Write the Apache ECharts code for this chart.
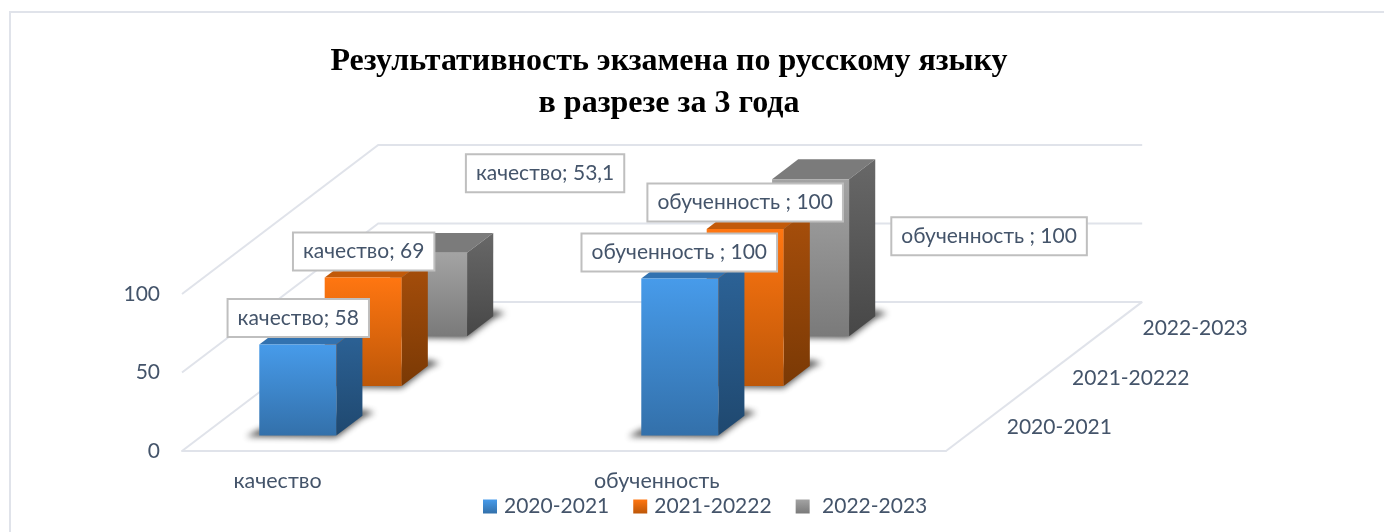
<!DOCTYPE html>
<html>
<head>
<meta charset="utf-8">
<title>Результативность экзамена</title>
<style>
    html, body { margin: 0; padding: 0; background: #fff; }
    #chart { width: 1384px; height: 532px; }
</style>
<script src="https://cdn.jsdelivr.net/npm/echarts@6/dist/echarts.min.js"></script>
</head>
<body>
<div id="chart"></div>
<script>
    // blank categories are in the source sheet, that is why the bars sit at 1/8 and 5/8 of the floor
    const categories = ['качество', '', 'обученность ', ''];
    const rowNames = ['2020-2021', '2021-20222', '2022-2023'];
    const values2021 = [58, null, 100, null];
    const values2122 = [69, null, 100, null];
    const values2223 = [53.1, null, 100, null];
    const yTicks = [0, 50, 100];

    const titleLines = ['Результативность экзамена по русскому языку', 'в разрезе за 3 года'];

    // oblique projection: one row of depth on screen
    const rowDx = 65.4;
    const rowDy = -49.7;
    const barStart = 0.31;
    const barDepth = 0.4;
    const barShare = 0.403;

    const textColor = '#44546a';
    const lineColor = '#e0e3ea';
    const textFont = 'Lato';

    const palettes = [
        { front: ['#479bea', '#3370aa'], side: ['#2d6499', '#1f486f'], top: '#3272b0' },
        { front: ['#ff7611', '#bd5708'], side: ['#a84f0b', '#7a3905'], top: '#c25a0a' },
        { front: ['#a3a3a3', '#7a7a7a'], side: ['#686868', '#474747'], top: '#7b7b7b' }
    ];

    // where the data labels were dragged to, relative to the top centre of the bar: [row][category]
    const labelShift = [
        { 0: [0.5, -26.5], 2: [-0.5, -26] },
        { 0: [0.5, -26], 2: [0, -26.5] },
        { 0: [116.5, -79.5], 2: [178.5, 57] }
    ];
    const rowLabelShift = [28, 28, 33];

    function vGrad(c) {
        return new echarts.graphic.LinearGradient(0, 0, 0, 1, [
            { offset: 0, color: c[0] },
            { offset: 1, color: c[1] }
        ]);
    }

    function barGeometry(api, row) {
        const cat = api.value(0);
        const val = api.value(1);
        if (isNaN(val)) return null;
        const width = api.size([1, 0])[0] * barShare;
        const base = api.coord([cat, 0]);
        const top = api.coord([cat, val]);
        const x = base[0] - width / 2 + (row + barStart) * rowDx;
        return {
            x: x,
            r: x + width,
            bottom: base[1] + (row + barStart) * rowDy,
            top: top[1] + (row + barStart) * rowDy,
            sx: barDepth * rowDx,
            sy: barDepth * rowDy
        };
    }

    function renderBar(row) {
        const p = palettes[row];
        const away = 3000; // the floor shadow shape is kept off the page, only its blur lands on the floor
        return function (params, api) {
            const g = barGeometry(api, row);
            if (!g) return null;
            return {
                type: 'group',
                children: [
                    {
                        type: 'polygon',
                        shape: { points: [
                            [g.x - 13 - away, g.bottom + 1], [g.r - away, g.bottom + 2], [g.r + g.sx - away, g.bottom + g.sy + 2],
                            [g.r + g.sx + 12 - away, g.bottom + g.sy - 3], [g.r + g.sx - away, g.bottom + g.sy - 6], [g.x - away, g.bottom - 6]
                        ] },
                        style: { fill: '#000', shadowBlur: 6, shadowColor: 'rgba(40,40,40,0.8)', shadowOffsetX: away }
                    },
                    {
                        type: 'polygon',
                        shape: { points: [[g.x, g.top], [g.x + g.sx, g.top + g.sy], [g.r + g.sx, g.top + g.sy], [g.r, g.top]] },
                        style: { fill: p.top }
                    },
                    {
                        type: 'polygon',
                        shape: { points: [[g.r, g.top], [g.r + g.sx, g.top + g.sy], [g.r + g.sx, g.bottom + g.sy], [g.r, g.bottom]] },
                        style: { fill: vGrad(p.side) }
                    },
                    {
                        type: 'rect',
                        shape: { x: g.x, y: g.top, width: g.r - g.x, height: g.bottom - g.top },
                        style: { fill: vGrad(p.front) }
                    }
                ]
            };
        };
    }

    function renderLabel(row) {
        return function (params, api) {
            const g = barGeometry(api, row);
            if (!g) return null;
            const cat = api.value(0);
            const shift = labelShift[row][cat];
            return {
                type: 'text',
                x: (g.x + g.r) / 2 + shift[0],
                y: g.top + shift[1],
                style: {
                    text: categories[cat] + '; ' + String(api.value(1)).replace('.', ','),
                    fontFamily: textFont,
                    fontSize: 21,
                    fill: textColor,
                    align: 'center',
                    verticalAlign: 'middle',
                    backgroundColor: '#fff',
                    borderColor: '#bfbfbf',
                    borderWidth: 2,
                    padding: [8, 9, 7, 9]
                }
            };
        };
    }

    function renderWall(params, api) {
        const cs = params.coordSys;
        const y = api.coord([0, api.value(1)])[1];
        const depthX = rowDx * rowNames.length;
        const depthY = rowDy * rowNames.length;
        const children = [{
            type: 'polyline',
            shape: { points: [[cs.x, y], [cs.x + depthX, y + depthY], [cs.x + cs.width + depthX, y + depthY]] },
            style: { stroke: lineColor, lineWidth: 2, fill: null }
        }];
        if (api.value(1) === 0) {
            children.push({
                type: 'line',
                shape: { x1: cs.x + cs.width, y1: y, x2: cs.x + cs.width + depthX, y2: y + depthY },
                style: { stroke: lineColor, lineWidth: 2 }
            });
        }
        return { type: 'group', children: children };
    }

    function renderRowName(params, api) {
        const cs = params.coordSys;
        const i = params.dataIndex;
        const base = api.coord([0, 0])[1];
        return {
            type: 'text',
            x: cs.x + cs.width + (i + 0.5) * rowDx + rowLabelShift[i],
            y: base + (i + 0.5) * rowDy + 1.5,
            style: {
                text: rowNames[i],
                fontFamily: textFont,
                fontSize: 21,
                fill: textColor,
                align: 'left',
                verticalAlign: 'middle'
            }
        };
    }

    const rowValues = [values2021, values2122, values2223];

    const barSeries = rowValues.map(function (vals, row) {
        return {
            name: rowNames[row],
            type: 'custom',
            z: 5 - row,
            renderItem: renderBar(row),
            encode: { x: 0, y: 1 },
            itemStyle: { color: vGrad(palettes[row].front) },
            data: vals.map(function (v, i) { return [i, v]; })
        };
    });

    const labelSeries = rowValues.map(function (vals, row) {
        return {
            name: 'labels' + row,
            type: 'custom',
            z: 10,
            renderItem: renderLabel(row),
            encode: { x: 0, y: 1 },
            data: vals.map(function (v, i) { return [i, v]; })
        };
    });

    const wallSeries = {
        name: 'walls',
        type: 'custom',
        z: 1,
        renderItem: renderWall,
        encode: { x: 0, y: 1 },
        data: yTicks.map(function (v) { return [0, v]; })
    };

    const rowNameSeries = {
        name: 'rows',
        type: 'custom',
        z: 1,
        renderItem: renderRowName,
        encode: { x: 0, y: 1 },
        data: rowNames.map(function () { return [0, 0]; })
    };

    const myChart = echarts.init(document.getElementById('chart'), null, { renderer: 'canvas' });
    myChart.setOption({
        animation: false,
        backgroundColor: '#fff',
        title: {
            text: titleLines.join('\n'),
            left: 664,
            top: 36,
            textAlign: 'center',
            textStyle: {
                fontFamily: 'Liberation Serif',
                fontWeight: 'bold',
                fontSize: 32,
                lineHeight: 42,
                color: '#000'
            }
        },
        // the page frame is cut by the picture on the right and at the bottom
        graphic: [{
            type: 'polyline',
            shape: { points: [[10, 532], [10, 12], [1384, 12]] },
            style: { fill: null, stroke: lineColor, lineWidth: 2 },
            silent: true
        }],
        legend: {
            data: rowNames,
            left: 478,
            top: 491,
            icon: 'rect',
            itemWidth: 14,
            itemHeight: 14,
            itemGap: 24,
            selectedMode: false,
            formatter: function (name) {
                return name === rowNames[2] ? '\u00a0' + name : name;
            },
            textStyle: { fontFamily: textFont, fontSize: 21, color: textColor, padding: [0, 0, 0, 2] }
        },
        grid: { left: 182, right: 438, top: 294, bottom: 81 },
        xAxis: {
            type: 'category',
            data: categories,
            axisTick: { show: false },
            axisLine: { lineStyle: { color: lineColor, width: 2 } },
            axisLabel: { interval: 0, margin: 19, color: textColor, fontFamily: textFont, fontSize: 21.5 }
        },
        yAxis: {
            type: 'value',
            min: 0,
            max: 100,
            interval: 50,
            splitLine: { show: false },
            axisLine: { show: false },
            axisTick: { show: false },
            axisLabel: { margin: 22, color: textColor, fontFamily: textFont, fontSize: 21 }
        },
        series: [wallSeries, rowNameSeries].concat(barSeries, labelSeries)
    });
</script>
</body>
</html>
